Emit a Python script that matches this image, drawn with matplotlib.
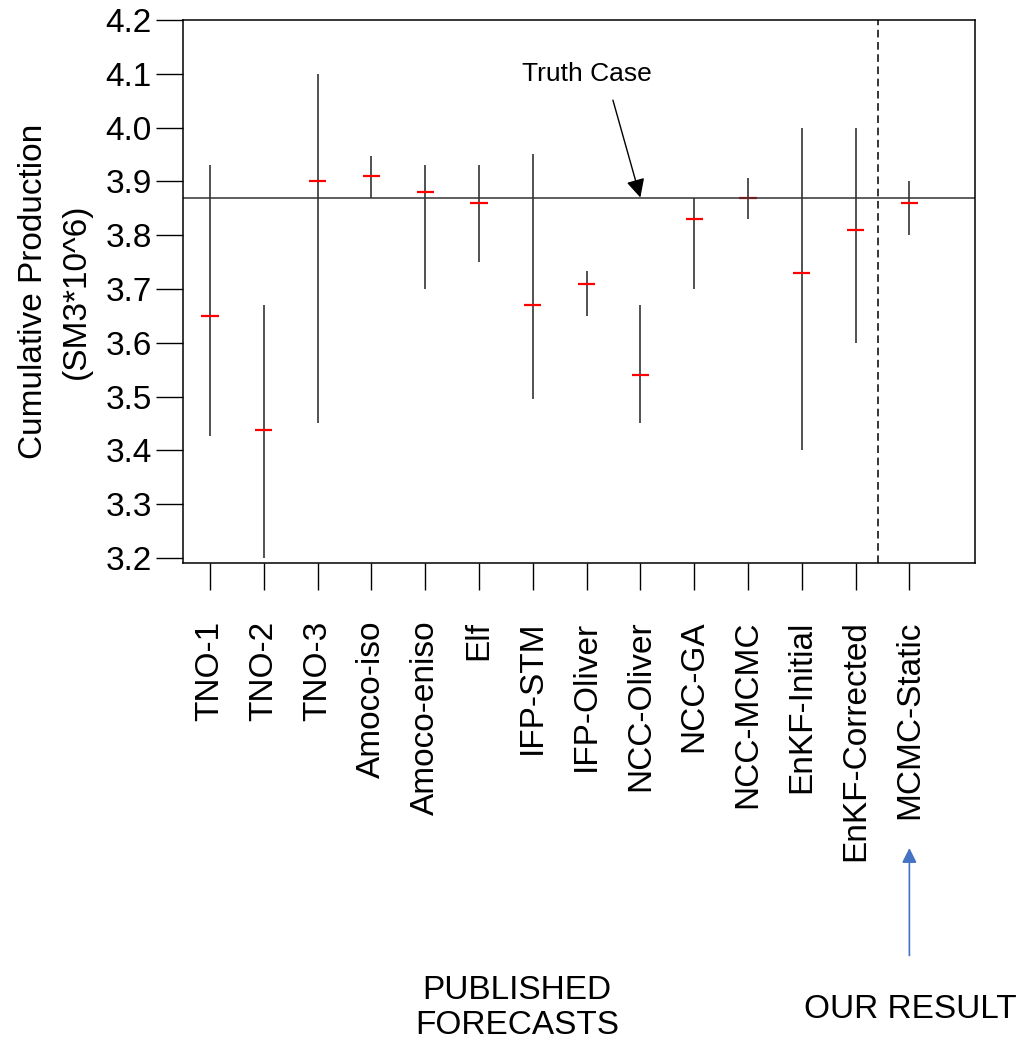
import numpy as np
import matplotlib.pyplot as plt

plt.rcParams["font.family"] = ["Liberation Sans", "DejaVu Sans"]

# forecasts of cumulative production, SM3*10^6
methods = ["TNO-1", "TNO-2", "TNO-3", "Amoco-iso", "Amoco-eniso", "Elf",
           "IFP-STM", "IFP-Oliver", "NCC-Oliver", "NCC-GA", "NCC-MCMC",
           "EnKF-Initial", "EnKF-Corrected", "MCMC-Static"]
low = [3.427, 3.200, 3.450, 3.870, 3.700, 3.750, 3.495, 3.650, 3.450, 3.700,
       3.830, 3.400, 3.600, 3.800]
high = [3.930, 3.670, 4.100, 3.947, 3.930, 3.930, 3.950, 3.734, 3.670, 3.870,
        3.906, 4.000, 4.000, 3.900]
mid = [3.650, 3.437, 3.900, 3.910, 3.880, 3.860, 3.670, 3.710, 3.540, 3.830,
       3.870, 3.730, 3.810, 3.860]
truth = 3.87

x = np.arange(len(methods))

fig = plt.figure(figsize=(10.23, 10.46), dpi=100)
ax = fig.add_axes([0.1789, 0.4618, 0.7742, 0.5191])

ax.vlines(x, low, high, color="#222222", lw=1.1)
ax.hlines(mid, x - 0.16, x + 0.16, color="red", lw=1.6)
ax.axhline(truth, color="#333333", lw=1.1)
ax.axvline(12.42, color="black", lw=1.1, ls=(0, (5, 3)))

ax.set_xlim(-0.5, 14.22)
ax.set_ylim(3.1907, 4.2)
ax.set_yticks(np.arange(3.2, 4.21, 0.1))
ax.set_yticklabels(["%.1f" % v for v in np.arange(3.2, 4.21, 0.1)])
ax.set_xticks(x)
ax.set_xticklabels(methods, rotation=90)
ax.tick_params(axis="y", direction="out", length=19.5, width=1, pad=3,
               labelsize=24)
ax.tick_params(axis="x", direction="out", length=19.5, width=1, pad=22,
               labelsize=24)
for s in ax.spines.values():
    s.set_linewidth(1.1)
ax.set_ylabel("Cumulative Production\n(SM3*10^6)", fontsize=24,
              labelpad=10, multialignment="center", linespacing=1.5)

# truth case label with arrow down to the line
ax.text(7.0, 4.10, "Truth Case", fontsize=19, ha="center", va="center")
ax.annotate("", xy=(8.0, truth), xytext=(7.49, 4.051),
            arrowprops=dict(arrowstyle="-|>", color="black", lw=1,
                            mutation_scale=28, shrinkA=0, shrinkB=0))

# arrow pointing up at our result
ax.annotate("", xy=(13, -0.525), xytext=(13, -0.723),
            xycoords=("data", "axes fraction"),
            textcoords=("data", "axes fraction"),
            annotation_clip=False,
            arrowprops=dict(arrowstyle="-|>", color="#4472C4", lw=1.2,
                            mutation_scale=22, shrinkA=0, shrinkB=0))

fig.text(517 / 1023, 1 - 1008 / 1046, "PUBLISHED\nFORECASTS", fontsize=24,
         ha="center", va="center", linespacing=1.2)
fig.text(910 / 1023, 1 - 1009 / 1046, "OUR RESULT", fontsize=24,
         ha="center", va="center")

fig.savefig("out.png", dpi=100)
